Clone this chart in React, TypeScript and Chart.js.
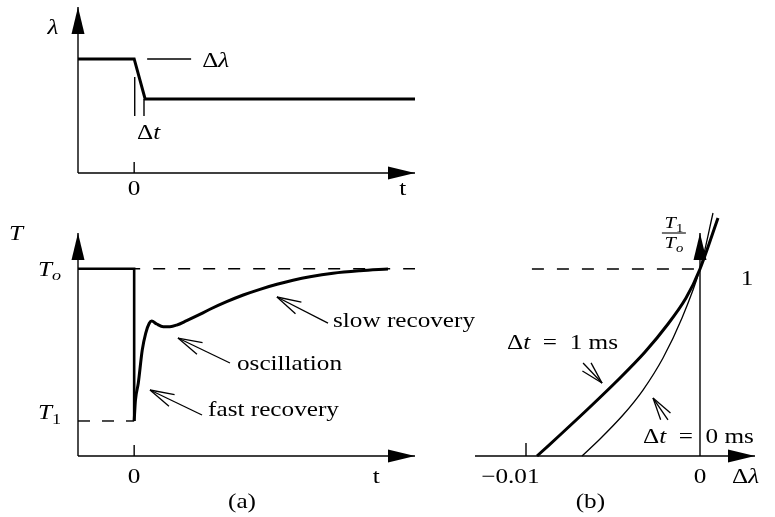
import { useEffect, useRef } from "react";
import { Chart, registerables } from "chart.js";

Chart.register(...registerables);

const W = 775;
const H = 517;

// ---- Panel (a), upper: step change of λ over time ----
const T_MIN = -1;
const T_MAX = 5;
const LAMBDA_MAX = 1;
const LAMBDA_T = [-1, 0, 0.195, 5];
const LAMBDA_V = [0.687, 0.687, 0.446, 0.446];
const T_TICKS = [0];
const T_TICK_LABELS = ["0"];

// ---- Panel (a), lower: temperature response ----
const TEMP_MAX = 1;
const T_O = 0.84;
const T_1 = 0.157;
const STEP_T = [-1, 0, 0];
const STEP_V = [T_O, T_O, T_1];
const RECOVERY_T = [0, 0.023, 0.073, 0.144, 0.205, 0.269, 0.312, 0.401, 0.518, 0.637, 0.757, 0.935, 1.113, 1.349, 1.647, 1.942, 2.24, 2.543, 2.828, 3.13, 3.54, 4.02, 4.519];
const RECOVERY_V = [0.157, 0.251, 0.326, 0.475, 0.55, 0.595, 0.605, 0.592, 0.58, 0.58, 0.587, 0.607, 0.628, 0.658, 0.692, 0.722, 0.7475, 0.77, 0.788, 0.8036, 0.8193, 0.8305, 0.8386];

// ---- Panel (b): T1/To against Δλ ----
const DL_MIN = -0.012931;
const DL_MAX = 0.003161;
const RATIO_MAX = 1.1925;
const DL_1MS = [-0.009368, -0.008046, -0.006322, -0.004598, -0.003161, -0.001839, -0.000805, 0, 0.001034];
const RATIO_1MS = [0, 0.1123, 0.262, 0.4171, 0.5561, 0.7059, 0.8449, 1, 1.2727];
const DL_0MS = [-0.006782, -0.005747, -0.004425, -0.003276, -0.002126, -0.001034, 0, 0.000747];
const RATIO_0MS = [0, 0.0909, 0.2193, 0.3529, 0.5241, 0.738, 1, 1.2995];
const DL_TICKS = [-0.01, 0];
const DL_TICK_LABELS = ["\u22120.01", "0"];

const INK = "#000";
const FAMILY = '"Liberation Serif", "Times New Roman", serif';
const SX = 1.2;
const SIZE = 21;

type Run = { s: string; it?: boolean; sub?: boolean };

function fontOf(size: number, italic?: boolean) {
  return `${italic ? "italic " : ""}${size}px ${FAMILY}`;
}

function text(
  ctx: CanvasRenderingContext2D,
  runs: Run[] | string,
  x: number,
  y: number,
  align: "left" | "center" | "right" = "left",
  size = SIZE
) {
  const rs: Run[] = typeof runs === "string" ? [{ s: runs }] : runs;
  ctx.save();
  ctx.fillStyle = INK;
  ctx.textBaseline = "alphabetic";
  ctx.textAlign = "left";
  const parts = rs.map((r) => {
    const sz = r.sub ? size * 0.72 : size;
    const f = fontOf(sz, r.it);
    ctx.font = f;
    return { r, f, w: ctx.measureText(r.s).width * SX, dy: r.sub ? size * 0.22 : 0 };
  });
  const total = parts.reduce((a, p) => a + p.w, 0);
  let cx = align === "left" ? x : align === "center" ? x - total / 2 : x - total;
  for (const p of parts) {
    ctx.font = p.f;
    ctx.save();
    ctx.translate(cx, y + p.dy);
    ctx.scale(SX, 1);
    ctx.fillText(p.r.s, 0, 0);
    ctx.restore();
    cx += p.w;
  }
  ctx.restore();
}

function seg(ctx: CanvasRenderingContext2D, x0: number, y0: number, x1: number, y1: number, w = 1.4) {
  ctx.save();
  ctx.strokeStyle = INK;
  ctx.lineWidth = w;
  ctx.lineCap = "butt";
  ctx.beginPath();
  ctx.moveTo(x0, y0);
  ctx.lineTo(x1, y1);
  ctx.stroke();
  ctx.restore();
}

// Axis line ending in a filled triangular head at (x1, y1)
function axis(ctx: CanvasRenderingContext2D, x0: number, y0: number, x1: number, y1: number) {
  seg(ctx, x0, y0, x1, y1, 1.4);
  const a = Math.atan2(y1 - y0, x1 - x0);
  const len = 27;
  const hw = 6.5;
  const bx = x1 - Math.cos(a) * len;
  const by = y1 - Math.sin(a) * len;
  ctx.save();
  ctx.fillStyle = INK;
  ctx.beginPath();
  ctx.moveTo(x1, y1);
  ctx.lineTo(bx + Math.sin(a) * hw, by - Math.cos(a) * hw);
  ctx.lineTo(bx - Math.sin(a) * hw, by + Math.cos(a) * hw);
  ctx.closePath();
  ctx.fill();
  ctx.restore();
}

// Annotation pointer: shaft from tail to tip with a narrow open head
function pointer(ctx: CanvasRenderingContext2D, tx: number, ty: number, px: number, py: number, barb = 25) {
  seg(ctx, tx, ty, px, py, 1.3);
  const a = Math.atan2(ty - py, tx - px);
  const spread = (15 * Math.PI) / 180;
  for (const s of [-spread, spread]) {
    seg(ctx, px, py, px + Math.cos(a + s) * barb, py + Math.sin(a + s) * barb, 1.3);
  }
}

const pts = (xs: number[], ys: number[]) => xs.map((x, i) => ({ x, y: ys[i] }));

function scalesFor(xmin: number, xmax: number, ymin: number, ymax: number) {
  return {
    x: { type: "linear" as const, min: xmin, max: xmax, display: false },
    y: { type: "linear" as const, min: ymin, max: ymax, display: false },
  };
}

function baseOptions(padding: { left: number; right: number; top: number; bottom: number }, scales: any) {
  return {
    responsive: false,
    maintainAspectRatio: false,
    devicePixelRatio: 1,
    animation: false as const,
    events: [] as any[],
    layout: { padding },
    scales,
    elements: { point: { radius: 0 } },
    plugins: { legend: { display: false }, tooltip: { enabled: false }, title: { display: false } },
  };
}

const lambdaPanel = {
  id: "lambdaPanel",
  afterDatasetsDraw(chart: any) {
    const ctx: CanvasRenderingContext2D = chart.ctx;
    const X = (v: number) => chart.scales.x.getPixelForValue(v);
    const Y = (v: number) => chart.scales.y.getPixelForValue(v);
    const ox = X(T_MIN);
    const oy = Y(0);
    axis(ctx, ox, oy, ox, Y(LAMBDA_MAX));
    axis(ctx, ox, oy, X(T_MAX), oy);
    T_TICKS.forEach((t, i) => {
      seg(ctx, X(t), oy, X(t), oy - 11);
      text(ctx, T_TICK_LABELS[i], X(t), oy + 22, "center");
    });
    text(ctx, "t", X(4.78), oy + 22, "center");
    text(ctx, [{ s: "λ", it: true }], ox - 25, Y(0.84), "center");
    // Δλ marker
    seg(ctx, X(0.231), Y(LAMBDA_V[0]), X(1.014), Y(LAMBDA_V[0]));
    text(ctx, [{ s: "Δ" }, { s: "λ", it: true }], X(1.21), Y(LAMBDA_V[0]) + 8);
    // Δt markers
    seg(ctx, X(0.01), Y(0.578), X(0.01), Y(0.343));
    seg(ctx, X(0.175), Y(LAMBDA_V[2]), X(0.175), Y(0.343));
    text(ctx, [{ s: "Δ" }, { s: "t", it: true }], X(0.05), Y(0.343) + 23);
  },
};

const tempPanel = {
  id: "tempPanel",
  afterDatasetsDraw(chart: any) {
    const ctx: CanvasRenderingContext2D = chart.ctx;
    const X = (v: number) => chart.scales.x.getPixelForValue(v);
    const Y = (v: number) => chart.scales.y.getPixelForValue(v);
    const ox = X(T_MIN);
    const oy = Y(0);
    axis(ctx, ox, oy, ox, Y(TEMP_MAX));
    axis(ctx, ox, oy, X(T_MAX), oy);
    T_TICKS.forEach((t, i) => {
      seg(ctx, X(t), oy, X(t), oy - 11);
      text(ctx, T_TICK_LABELS[i], X(t), oy + 27, "center");
    });
    text(ctx, "t", X(4.31), oy + 27, "center");
    text(ctx, "(a)", X(1.92), oy + 52, "center");
    text(ctx, [{ s: "T", it: true }], ox - 62, Y(TEMP_MAX) + 7, "center");
    text(ctx, [{ s: "T", it: true }, { s: "o", it: true, sub: true }], ox - 17, Y(T_O) + 7, "right");
    text(ctx, [{ s: "T", it: true }, { s: "1", sub: true }], ox - 17, Y(T_1) - 2, "right");

    pointer(ctx, X(1.208), Y(0.184), X(0.282), Y(0.296));
    text(ctx, "fast recovery", X(1.316), Y(0.179));
    pointer(ctx, X(1.706), Y(0.417), X(0.78), Y(0.529));
    text(ctx, "oscillation", X(1.831), Y(0.386));
    pointer(ctx, X(3.451), Y(0.596), X(2.542), Y(0.713));
    text(ctx, "slow recovery", X(3.54), Y(0.578));
  },
};

const ratioPanel = {
  id: "ratioPanel",
  afterDatasetsDraw(chart: any) {
    const ctx: CanvasRenderingContext2D = chart.ctx;
    const X = (v: number) => chart.scales.x.getPixelForValue(v);
    const Y = (v: number) => chart.scales.y.getPixelForValue(v);
    const ox = X(0);
    const oy = Y(0);
    axis(ctx, X(DL_MIN), oy, X(DL_MAX), oy);
    axis(ctx, ox, oy, ox, Y(RATIO_MAX));
    DL_TICKS.forEach((v) => {
      if (v !== 0) seg(ctx, X(v), oy, X(v), oy - 13);
    });
    text(ctx, DL_TICK_LABELS[0], X(-0.0109), oy + 27, "center");
    text(ctx, DL_TICK_LABELS[1], X(0), oy + 27, "center");
    text(ctx, [{ s: "Δ" }, { s: "λ", it: true }], X(0.00184), oy + 27);
    text(ctx, "(b)", X(-0.0063), oy + 52, "center");
    text(ctx, "1", X(0.0027), Y(0.914), "center");

    // y-axis title as a fraction T1 / To
    const fx = X(-0.0015);
    text(ctx, [{ s: "T", it: true }, { s: "1", sub: true }], fx, Y(1.219), "center", 17);
    seg(ctx, fx - 12, Y(RATIO_MAX), fx + 12, Y(RATIO_MAX), 1.1);
    text(ctx, [{ s: "T", it: true }, { s: "o", it: true, sub: true }], fx, Y(1.11), "center", 17);

    text(ctx, [{ s: "Δ" }, { s: "t", it: true }, { s: "\u2002=\u20021 ms" }], X(-0.01109), Y(0.572));
    pointer(ctx, X(-0.00672), Y(0.497), X(-0.00563), Y(0.39), 23);
    text(ctx, [{ s: "Δ" }, { s: "t", it: true }, { s: "\u2002=\u20020 ms" }], X(-0.00328), Y(0.0695));
    pointer(ctx, X(-0.00184), Y(0.193), X(-0.0027), Y(0.31), 23);
  },
};

export default function App() {
  const topRef = useRef<HTMLCanvasElement>(null);
  const midRef = useRef<HTMLCanvasElement>(null);
  const rightRef = useRef<HTMLCanvasElement>(null);

  useEffect(() => {
    const charts: Chart[] = [];

    charts.push(
      new Chart(topRef.current!, {
        type: "line",
        data: {
          datasets: [
            { data: pts(LAMBDA_T, LAMBDA_V), borderColor: INK, borderWidth: 3, tension: 0, pointRadius: 0, borderJoinStyle: "miter" } as any,
          ],
        },
        options: baseOptions({ left: 78, right: W - 415, top: 7, bottom: H - 173 }, scalesFor(T_MIN, T_MAX, 0, LAMBDA_MAX)) as any,
        plugins: [lambdaPanel],
      })
    );

    charts.push(
      new Chart(midRef.current!, {
        type: "line",
        data: {
          datasets: [
            { data: pts([0, T_MAX], [T_O, T_O]), borderColor: INK, borderWidth: 1.4, borderDash: [12, 13], borderDashOffset: 6, pointRadius: 0 } as any,
            { data: pts([T_MIN, 0], [T_1, T_1]), borderColor: INK, borderWidth: 1.4, borderDash: [12, 12], pointRadius: 0 } as any,
            { data: pts(STEP_T, STEP_V), borderColor: INK, borderWidth: 2.6, tension: 0, pointRadius: 0, borderJoinStyle: "miter" } as any,
            { data: pts(RECOVERY_T, RECOVERY_V), borderColor: INK, borderWidth: 3, cubicInterpolationMode: "monotone", pointRadius: 0 } as any,
          ],
        },
        options: baseOptions({ left: 78, right: W - 415, top: 233, bottom: H - 456 }, scalesFor(T_MIN, T_MAX, 0, TEMP_MAX)) as any,
        plugins: [tempPanel],
      })
    );

    charts.push(
      new Chart(rightRef.current!, {
        type: "line",
        data: {
          datasets: [
            { data: pts([-0.00966, 0], [1, 1]), borderColor: INK, borderWidth: 1.4, borderDash: [12, 13], pointRadius: 0 } as any,
            { data: pts(DL_1MS, RATIO_1MS), borderColor: INK, borderWidth: 3, tension: 0.3, pointRadius: 0, clip: false } as any,
            { data: pts(DL_0MS, RATIO_0MS), borderColor: INK, borderWidth: 1.3, tension: 0.3, pointRadius: 0, clip: false } as any,
          ],
        },
        options: baseOptions({ left: 475, right: W - 755, top: 233, bottom: H - 456 }, scalesFor(DL_MIN, DL_MAX, 0, RATIO_MAX)) as any,
        plugins: [ratioPanel],
      })
    );

    return () => charts.forEach((c) => c.destroy());
  }, []);

  const canvasStyle: React.CSSProperties = { position: "absolute", left: 0, top: 0, width: W, height: H };
  return (
    <div style={{ position: "fixed", left: 0, top: 0, width: W, height: H, background: "#fff" }}>
      <canvas ref={topRef} width={W} height={H} style={canvasStyle} />
      <canvas ref={midRef} width={W} height={H} style={canvasStyle} />
      <canvas ref={rightRef} width={W} height={H} style={canvasStyle} />
    </div>
  );
}
